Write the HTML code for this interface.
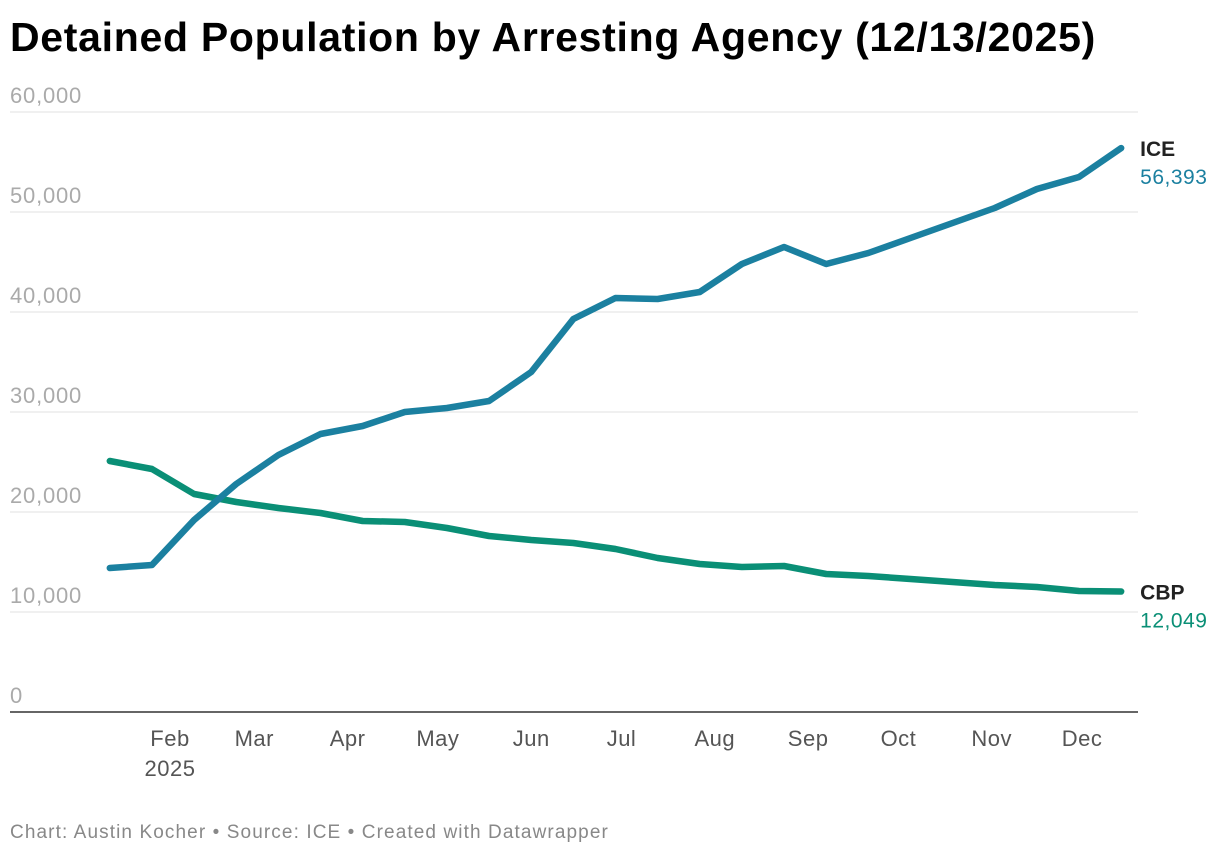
<!DOCTYPE html>
<html><head><meta charset="utf-8"><style>
body{margin:0;background:#fff;font-family:"Liberation Sans",sans-serif;}
#wrap{position:relative;width:1220px;height:858px;overflow:hidden}
h1{position:absolute;left:10px;top:14px;margin:0;font-size:41px;font-weight:bold;color:#000;letter-spacing:0.7px;white-space:nowrap}
.foot{position:absolute;left:10px;top:822px;font-size:19px;color:#888;letter-spacing:1.1px;white-space:nowrap}
</style></head><body>
<div id="wrap">
<h1>Detained Population by Arresting Agency (12/13/2025)</h1>
<svg id="chart" width="1220" height="858" style="position:absolute;left:0;top:0"></svg>
<div class="foot">Chart: Austin Kocher • Source: ICE • Created with Datawrapper</div>
</div>
<script>
const days=[11,25,39,53,67,81,95,109,123,137,151,165,179,193,207,221,235,249,263,277,291,305,319,333,347];
const iceValues=[14400,14700,19200,22800,25700,27800,28600,30000,30400,31100,34000,39300,41400,41300,42000,44800,46500,44800,45900,47400,48900,50400,52300,53500,56393];
const cbpValues=[25100,24300,21800,21000,20400,19900,19100,19000,18400,17600,17200,16900,16300,15400,14800,14500,14600,13800,13600,13300,13000,12700,12500,12100,12049];
const yTicks=[0,10000,20000,30000,40000,50000,60000];
const monthNames=["Feb","Mar","Apr","May","Jun","Jul","Aug","Sep","Oct","Nov","Dec"];
const monthDays=[31,59,90,120,151,181,212,243,273,304,334];
const NS="http://www.w3.org/2000/svg";
const svg=document.getElementById('chart');
const x=d=>76.7+d*3.01;
const y=v=>712-v*0.01;
function mk(t,a){const e=document.createElementNS(NS,t);for(const k in a)e.setAttribute(k,a[k]);svg.appendChild(e);return e;}
yTicks.forEach(v=>{
  if(v>0){const l=mk('line',{x1:10,x2:1138,y1:y(v),y2:y(v),stroke:'#e0e0e0','stroke-width':1});
  
  }
  const t=mk('text',{x:10,y:y(v)-9,fill:'#aaa','font-size':22,'letter-spacing':0.8,'font-family':'Liberation Sans'});
  t.textContent=v.toLocaleString('en-US');
  
  
});
const ax=mk('line',{x1:10,x2:1138,y1:712,y2:712,stroke:'#333','stroke-width':1.5});


monthNames.forEach((m,i)=>{
  const t=mk('text',{x:x(monthDays[i]),y:746,fill:'#555','font-size':22,'letter-spacing':0.5,'text-anchor':'middle','font-family':'Liberation Sans'});
  t.textContent=m;
  
  
});
const yr=mk('text',{x:x(31),y:776,fill:'#555','font-size':22,'letter-spacing':0.5,'text-anchor':'middle','font-family':'Liberation Sans'});
yr.textContent='2025';


function series(vals,color,name){
  const p=mk('polyline',{points:vals.map((v,i)=>x(days[i])+','+y(v)).join(' '),fill:'none',stroke:color,'stroke-width':6.5,'stroke-linejoin':'round','stroke-linecap':'round'});
  
  
  const lx=x(days[days.length-1])+19, ly=y(vals[vals.length-1]);
  const a=mk('text',{x:lx,y:ly+8,fill:'#222','font-size':21,'font-weight':'bold','font-family':'Liberation Sans'});
  a.textContent=name.toUpperCase();
  
  
  const b=mk('text',{x:lx,y:ly+36,fill:color,'font-size':21,'letter-spacing':0.5,'font-family':'Liberation Sans'});
  b.textContent=vals[vals.length-1].toLocaleString('en-US');
  
  
}
series(cbpValues,'#0a8f76','cbp');
series(iceValues,'#1b80a0','ice');
</script>
</body></html>
